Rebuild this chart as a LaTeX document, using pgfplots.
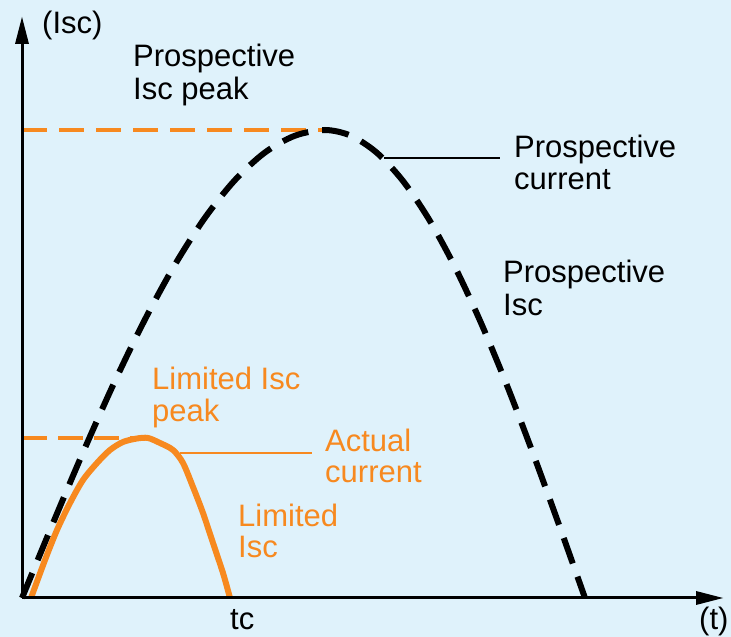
\documentclass[border=0pt]{standalone}
\usepackage{pgfplots}
\pgfplotsset{compat=1.18}
\usepackage{fontspec}
\setmainfont{Liberation Sans}
\definecolor{bg}{RGB}{223,242,251}
\definecolor{org}{RGB}{247,137,31}
\tikzset{lbl/.style={anchor=base west,inner sep=0pt,font=\fontsize{31}{33}\selectfont}}
\begin{document}
\begin{tikzpicture}[x=1pt,y=1pt]
\fill[bg] (0,0) rectangle (731,637);
\begin{axis}[at={(0,0)},anchor=south west,width=731pt,height=637pt,scale only axis,
  xmin=0,xmax=731,ymin=0,ymax=637,hide axis,clip=false]
% orange dashed reference levels
\addplot[org,line width=4.5pt,dash pattern=on 25pt off 12pt] coordinates {(22,507) (322,507)};
\addplot[org,line width=4.5pt,dash pattern=on 25pt off 11pt] coordinates {(22,199) (143,199)};
% prospective current (black dashed)
\addplot[black,line width=6pt,dash pattern=on 27pt off 14pt,smooth,tension=0.5] coordinates {
(22,39) (52.3,112.2) (82.6,183.6) (112.9,251.5) (143.2,314.1) (173.5,369.9)
(203.8,417.6) (234.1,456.0) (264.4,484.1) (294.7,501.2) (325,507)
(351,501.2) (377,484.1) (403,456.0) (429,417.6) (455,369.9) (481,314.1)
(507,251.5) (533,183.6) (559,112.2) (585,39)};
% actual current (orange solid)
\addplot[org,line width=6pt,smooth,tension=0.5] coordinates {
(31,39) (45,77) (57,107) (70,134) (83,157) (97,174) (110,187) (123,195) (137,198.5)
(148,199) (160,194) (173,187) (183,174) (193,150) (203,124) (213,94) (223,64) (230,39)};
% leader lines
\draw[black,line width=1.7pt] (axis cs:384,479) -- (axis cs:500,479);
\draw[org,line width=2.2pt] (axis cs:180,184) -- (axis cs:312,184);
% axes
\draw[black,line width=3pt] (axis cs:22,39) -- (axis cs:22,594);
\draw[black,line width=3pt] (axis cs:22,39) -- (axis cs:698,39);
\fill[black] (axis cs:22,620) -- (axis cs:15,593) -- (axis cs:29,593) -- cycle;
\fill[black] (axis cs:723,39) -- (axis cs:696,32) -- (axis cs:696,46) -- cycle;
% texts
\node[lbl] at (axis cs:42,603) {(Isc)};
\node[lbl] at (axis cs:133,570) {Prospective};
\node[lbl] at (axis cs:133,537) {Isc peak};
\node[lbl] at (axis cs:514,479) {Prospective};
\node[lbl] at (axis cs:514,447) {current};
\node[lbl] at (axis cs:503,354) {Prospective};
\node[lbl] at (axis cs:503,321) {Isc};
\node[lbl,text=org] at (axis cs:152,247) {Limited Isc};
\node[lbl,text=org] at (axis cs:152,215) {peak};
\node[lbl,text=org] at (axis cs:325,185) {Actual};
\node[lbl,text=org] at (axis cs:325,154) {current};
\node[lbl,text=org] at (axis cs:238,110) {Limited};
\node[lbl,text=org] at (axis cs:238,79) {Isc};
\node[lbl] at (axis cs:230,7) {tc};
\node[lbl] at (axis cs:699,7) {(t)};
\end{axis}
\end{tikzpicture}
\end{document}
